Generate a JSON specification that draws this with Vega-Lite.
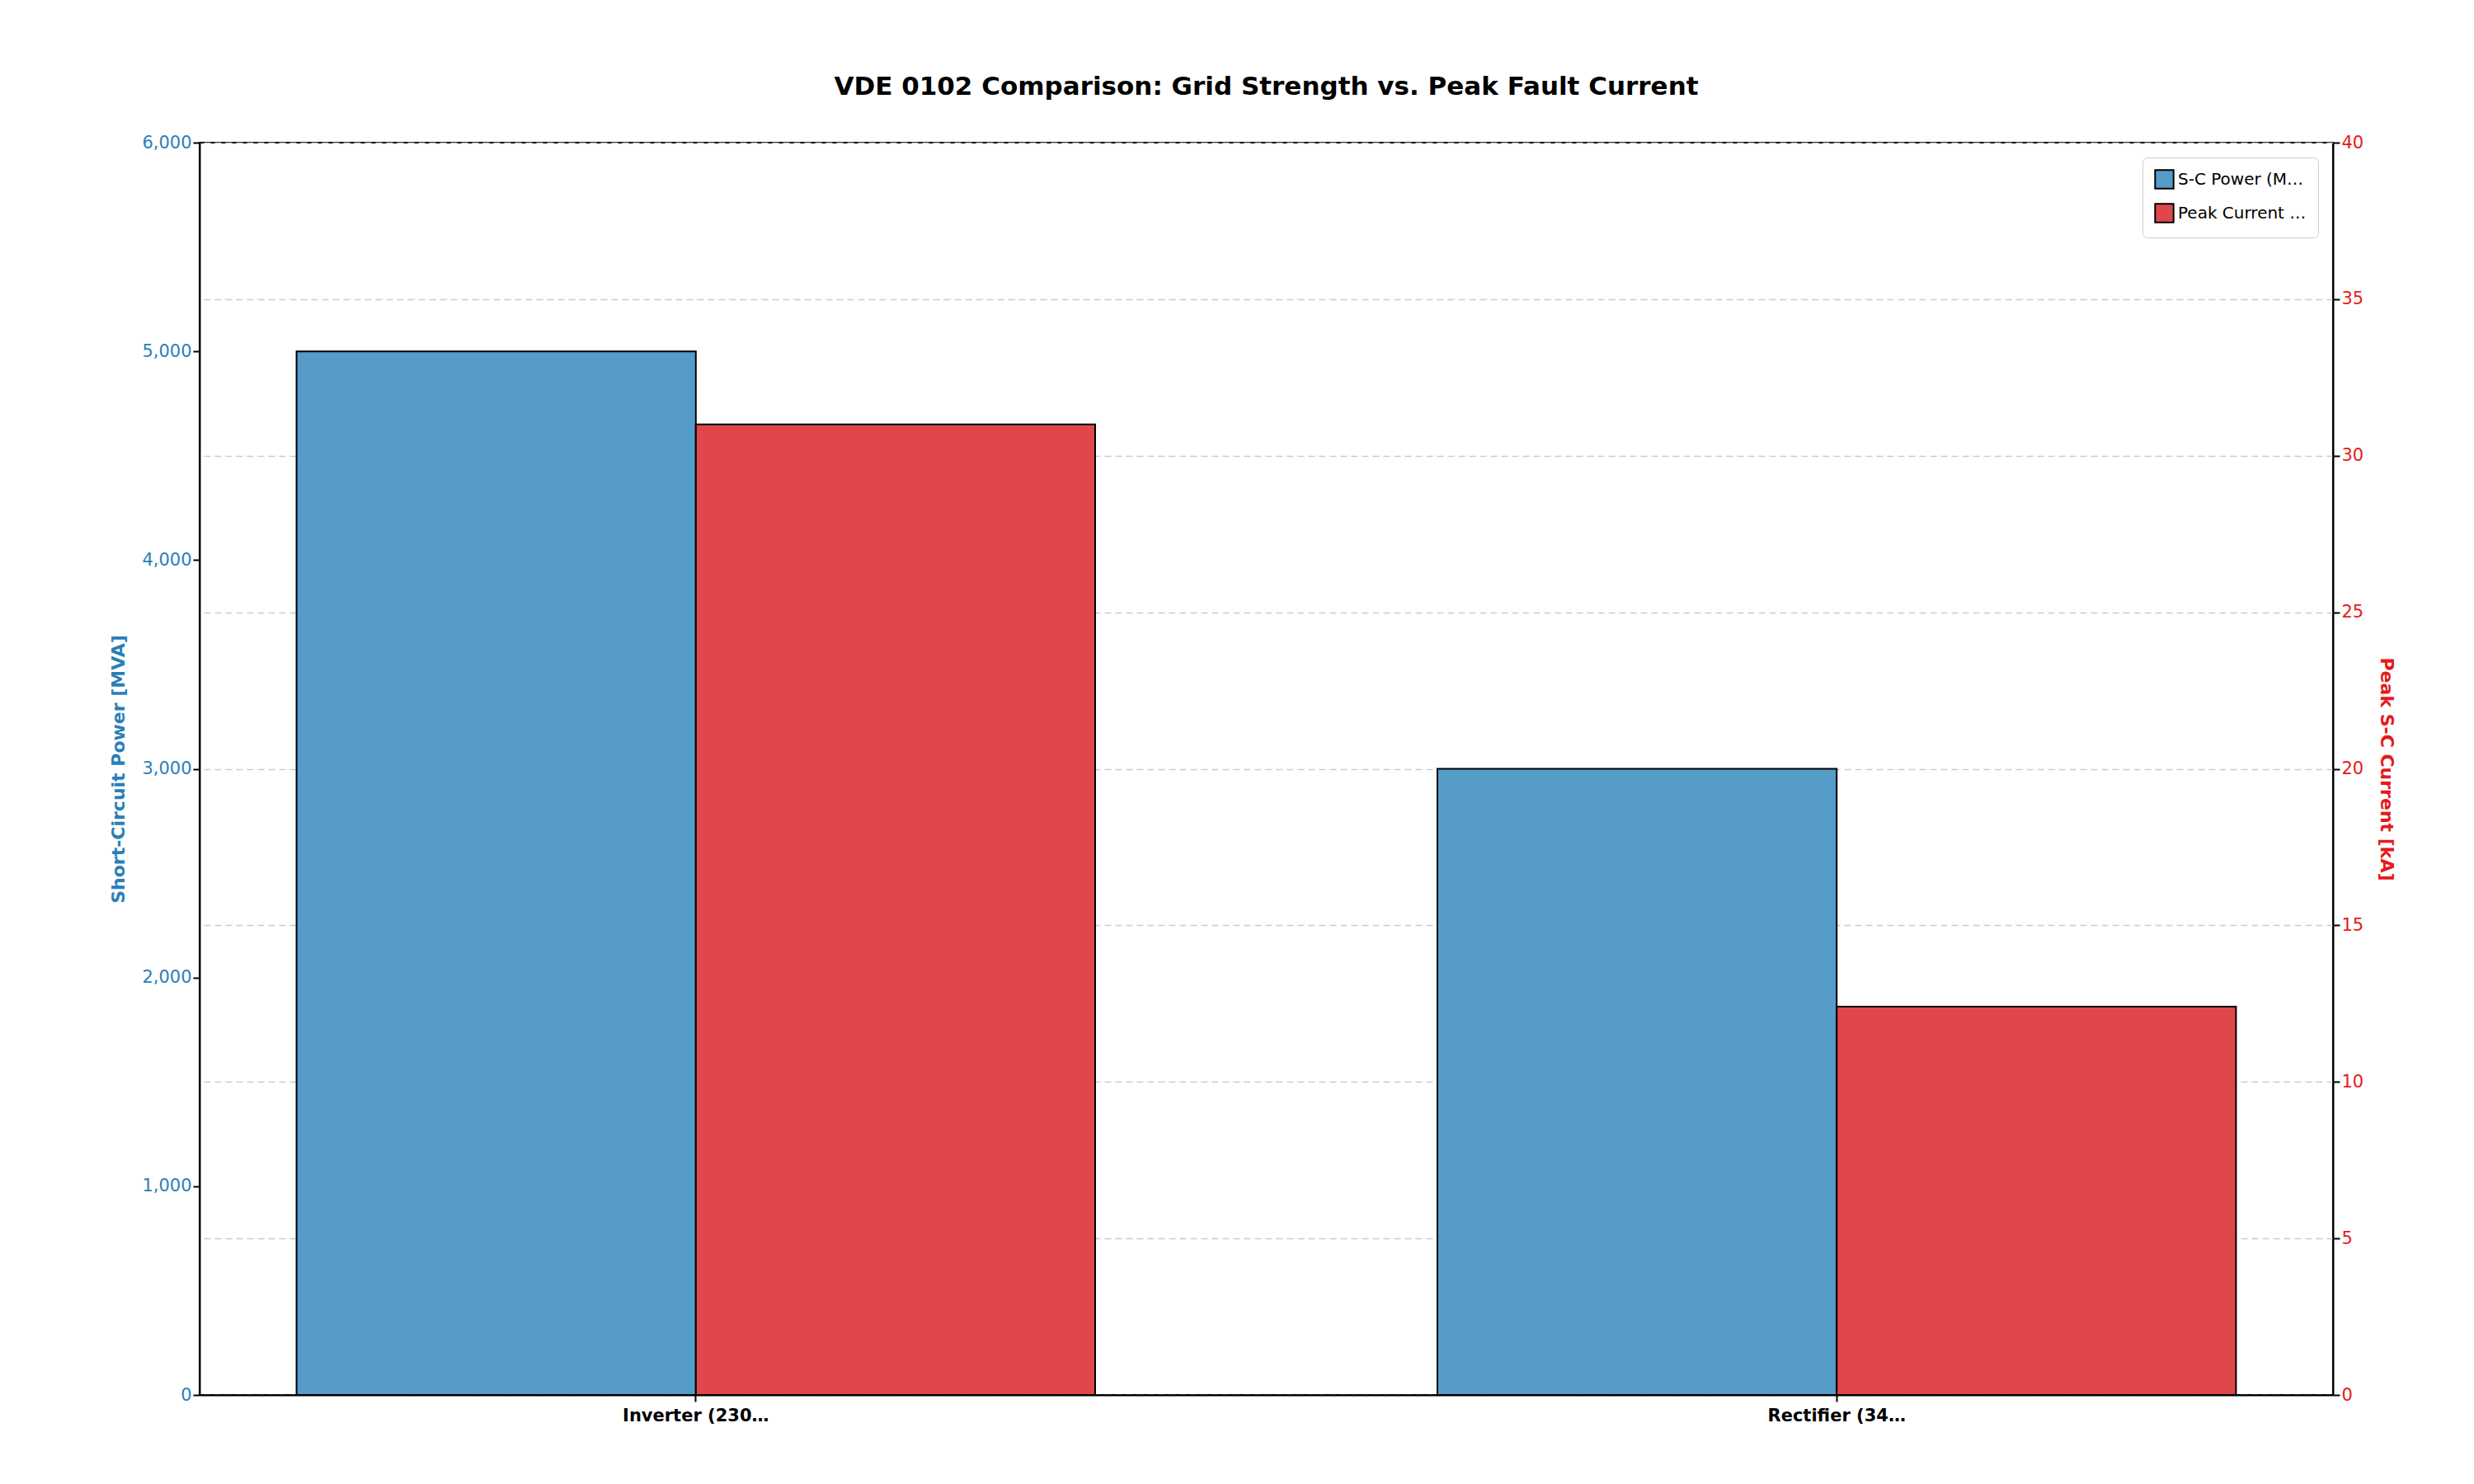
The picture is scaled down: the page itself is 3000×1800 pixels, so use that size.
{
  "$schema": "https://vega.github.io/schema/vega-lite/v6.json",
  "autosize": "none",
  "width": 2587,
  "height": 1519,
  "padding": {"left": 242, "top": 173, "right": 171, "bottom": 108},
  "background": "white",
  "title": {
    "text": "VDE 0102 Comparison: Grid Strength vs. Peak Fault Current",
    "fontSize": 31, "fontWeight": "bold", "font": "DejaVu Sans", "offset": 40, "color": "black"
  },
  "config": {
    "font": "DejaVu Sans",
    "view": {"stroke": "black", "strokeWidth": 2},
    "axis": {"domainColor": "black", "tickColor": "black", "labelFontSize": 21, "titleFontSize": 22, "domainWidth": 2, "tickWidth": 2, "tickSize": 8}
  },
  "data": {
    "values": [
      {"station": "Inverter (230kV)", "series": "S-C Power (MVA)", "value": 5000},
      {"station": "Inverter (230kV)", "series": "Peak Current (kA)", "value": 31.0},
      {"station": "Rectifier (345kV)", "series": "S-C Power (MVA)", "value": 3000},
      {"station": "Rectifier (345kV)", "series": "Peak Current (kA)", "value": 12.4}
    ]
  },
  "encoding": {
    "x": {
      "field": "station", "type": "nominal", "title": null,
      "scale": {"paddingInner": 0.3, "paddingOuter": 0.085},
      "axis": {"labelAngle": 0, "labelFontWeight": "bold", "labelColor": "black", "labelPadding": 6}
    },
    "xOffset": {"field": "series", "type": "nominal", "scale": {"domain": ["S-C Power (MVA)", "Peak Current (kA)"], "paddingInner": 0}},
    "color": {
      "field": "series", "type": "nominal",
      "scale": {"domain": ["S-C Power (MVA)", "Peak Current (kA)"], "range": ["#559cc8", "#e0474a"]},
      "legend": {
        "title": null, "orient": "top-right", "offset": 18, "labelFontSize": 20, "symbolType": "square",
        "symbolSize": 500, "symbolStrokeColor": "black", "symbolStrokeWidth": 2, "symbolOpacity": 1,
        "fillColor": "white", "strokeColor": "#cccccc", "padding": 14, "cornerRadius": 6, "rowPadding": 10, "labelColor": "black"
      }
    }
  },
  "layer": [
    {
      "transform": [{"filter": "datum.series == 'S-C Power (MVA)'"}],
      "mark": {"type": "bar", "stroke": "black", "strokeWidth": 2},
      "encoding": {
        "y": {
          "field": "value", "type": "quantitative", "title": "Short-Circuit Power [MVA]",
          "scale": {"domain": [0, 6000]},
          "axis": {"orient": "left", "grid": false, "values": [0,1000,2000,3000,4000,5000,6000], "labelColor": "#2a7fb8", "titleColor": "#2a7fb8", "titleFontWeight": "bold", "titlePadding": 16}
        }
      }
    },
    {
      "transform": [{"filter": "datum.series == 'Peak Current (kA)'"}],
      "mark": {"type": "bar", "stroke": "black", "strokeWidth": 2},
      "encoding": {
        "y": {
          "field": "value", "type": "quantitative", "title": "Peak S-C Current [kA]",
          "scale": {"domain": [0, 40]},
          "axis": {"orient": "right", "grid": true, "gridDash": [8, 5], "gridColor": "#cccccc", "gridWidth": 1.5, "values": [0,5,10,15,20,25,30,35,40], "labelColor": "#e41a1c", "titleColor": "#e41a1c", "titleFontWeight": "bold", "titlePadding": 16}
        }
      }
    }
  ],
  "resolve": {"scale": {"y": "independent"}, "axis": {"y": "independent"}}
}
